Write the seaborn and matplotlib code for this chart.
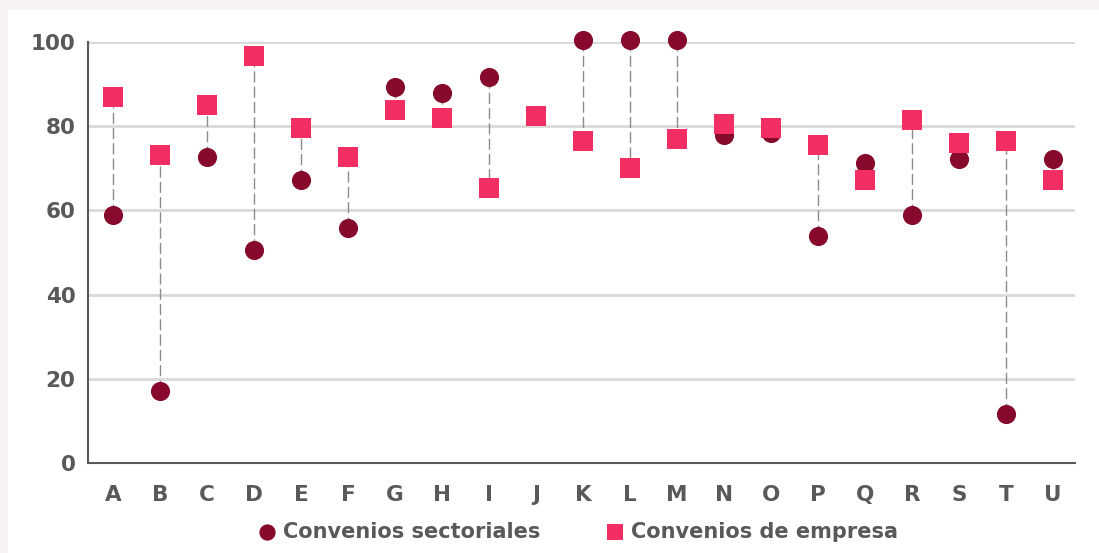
import pandas as pd
import seaborn as sns
import matplotlib.pyplot as plt
from matplotlib.patches import Rectangle

# datos
categorias = list("ABCDEFGHIJKLMNOPQRSTU")
sectoriales = [58.9, 17.1, 72.7, 50.6, 67.2, 55.8, 89.3, 87.9, 91.7, 82.7, 100.5,
               100.5, 100.5, 77.9, 78.4, 53.9, 71.3, 58.9, 72.2, 11.6, 72.2]
empresa = [86.9, 73.2, 85.0, 96.7, 79.6, 72.7, 83.8, 81.9, 65.3, 82.4, 76.5,
           70.1, 77.0, 80.5, 79.6, 75.5, 67.2, 81.5, 76.0, 76.5, 67.2]

col_sect = "#870A2C"
col_emp = "#F22E63"
gris = "#595959"

df = pd.DataFrame({"cat": categorias, "sect": sectoriales, "emp": empresa})
df["x"] = range(len(df))

sns.set_style("white")
plt.rcParams["font.family"] = ["DejaVu Sans"]

fig = plt.figure(figsize=(10.99, 5.53), dpi=100, facecolor="#F7F3F2")
fig.patches.append(Rectangle((8 / 1099, 0), 1, 1 - 10 / 553, transform=fig.transFigure,
                             facecolor="white", edgecolor="none", zorder=-5))
ax = fig.add_axes([88 / 1099, 90 / 553, (1075 - 88) / 1099, (463 - 42) / 553])
ax.set_facecolor("none")

# líneas discontinuas entre ambos valores
ax.vlines(df["x"], df["sect"], df["emp"], colors="#8C8C8C", linewidth=1,
          linestyles=(0, (8, 3)), zorder=1)

sns.scatterplot(data=df, x="x", y="sect", ax=ax, color=col_sect, marker="o", s=190,
                linewidth=0, zorder=3, clip_on=False, label="Convenios sectoriales")
sns.scatterplot(data=df, x="x", y="emp", ax=ax, color=col_emp, marker="s", s=190,
                linewidth=0, zorder=4, clip_on=False, label="Convenios de empresa")

ax.set_xlim(-0.53, 20.47)
ax.set_ylim(0, 100)
ax.set_yticks([0, 20, 40, 60, 80, 100])
ax.set_xticks(df["x"])
ax.set_xticklabels(categorias)
ax.set_xlabel("")
ax.set_ylabel("")
ax.yaxis.grid(True, color="#D9D9D9", linewidth=2)
ax.set_axisbelow(True)

for s in ["top", "right"]:
    ax.spines[s].set_visible(False)
for s in ["left", "bottom"]:
    ax.spines[s].set_color(gris)
    ax.spines[s].set_linewidth(1.5)

ax.tick_params(axis="both", direction="out", length=7, width=1.2, color=gris,
               labelcolor=gris, labelsize=15.5)
ax.tick_params(axis="y", pad=2)
ax.tick_params(axis="x", pad=9)
for lab in ax.get_xticklabels() + ax.get_yticklabels():
    lab.set_fontweight("bold")

leg = ax.legend(loc="upper center", bbox_to_anchor=(0.497, -0.095), ncol=2, frameon=False,
                fontsize=15, handlelength=0.8, handletextpad=0.35, columnspacing=3.2,
                markerscale=0.85)
for t in leg.get_texts():
    t.set_color(gris)
    t.set_fontweight("semibold")

plt.savefig("out.png", dpi=100, facecolor=fig.get_facecolor())
